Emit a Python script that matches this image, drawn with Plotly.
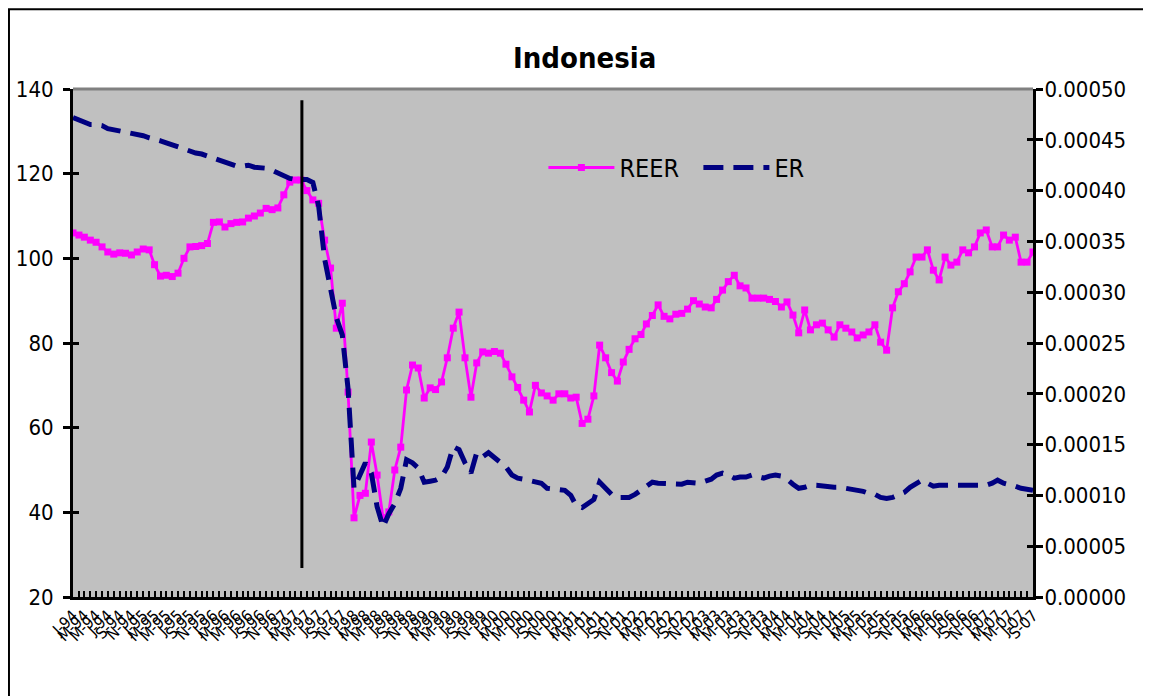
import pandas as pd
import plotly.graph_objects as go

dates = pd.date_range("1994-01-01", "2007-09-01", freq="MS")
months = ["J", "F", "M", "A", "M", "J", "J", "A", "S", "O", "N", "D"]
labels = [f"{months[d.month-1]}-{d.strftime('%y')}" for d in dates]

reer = [
    106, 105.5, 105, 104.3, 103.8, 102.7, 101.5, 101, 101.3, 101.2,
    100.8, 101.5, 102.2, 102, 98.5, 95.8, 96, 95.7, 96.5, 100,
    102.7, 102.8, 103, 103.5, 108.5, 108.6, 107.4, 108.2, 108.5, 108.6,
    109.5, 110, 110.7, 111.8, 111.5, 111.9, 115, 118, 118.5, 118.5,
    116, 113.8, 113, 104.3, 97.7, 83.5, 89.4, 68.4, 38.7, 44,
    44.5, 56.6, 48.8, 38.7, 40.1, 50, 55.4, 68.9, 74.8, 74.1,
    67, 69.4, 69, 70.8, 76.5, 83.5, 87.3, 76.5, 67.2, 75.3,
    77.9, 77.6, 78, 77.6, 75, 72, 69.5, 66.5, 63.7, 70,
    68.2, 67.5, 66.5, 68, 68, 67, 67.2, 61, 62, 67.5,
    79.5, 76.5, 73, 71, 75.5, 78.5, 81, 82, 84.5, 86.5,
    89, 86.3, 85.7, 86.8, 87, 88, 90, 89.2, 88.5, 88.3,
    90.3, 92.5, 94.5, 96, 93.5, 93, 90.6, 90.6, 90.6, 90.3,
    89.8, 88.5, 89.7, 86.6, 82.4, 87.8, 83.1, 84.3, 84.7, 83.1,
    81.4, 84.3, 83.5, 82.6, 81.2, 81.9, 82.6, 84.3, 80.2, 78.3,
    88.3, 92.1, 94, 96.8, 100.3, 100.3, 102, 97.2, 94.9, 100.3,
    98.4, 99.1, 102, 101.3, 102.7, 106, 106.7, 102.7, 102.7, 105.5,
    104.3, 105, 99.1, 99.1, 101.5,
]

er = [
    0.000472, 0.000470, 0.000467, 0.000465, 0.000465, 0.000464, 0.000461, 0.000460, 0.000459, 0.000458,
    0.000457, 0.000456, 0.000454, 0.000452, 0.000451, 0.000449, 0.000447, 0.000445, 0.000443, 0.000440,
    0.000439, 0.000437, 0.000436, 0.000434, 0.000432, 0.000430, 0.000428, 0.000426, 0.000424, 0.000424,
    0.000425, 0.000423, 0.000423, 0.000422, 0.000420, 0.000417, 0.000414, 0.000412, 0.000411, 0.000411,
    0.000411, 0.000408, 0.000385, 0.000333, 0.000305, 0.000275, 0.000258, 0.000205, 0.000107, 0.000120,
    0.000132, 0.000122, 0.000089, 0.000069, 0.000082, 0.000092, 0.000107, 0.000135, 0.000132, 0.000127,
    0.000113, 0.000114, 0.000115, 0.000118, 0.000128, 0.000148, 0.000145, 0.000132, 0.000122, 0.000142,
    0.000138, 0.000142, 0.000137, 0.000133, 0.000128, 0.000120, 0.000117, 0.000116, 0.000115, 0.000114,
    0.000112, 0.000107, 0.000106, 0.000106, 0.000105, 0.000100, 0.000090, 0.000088, 0.000092, 0.000096,
    0.000113, 0.000107, 0.000101, 0.000098, 0.000098, 0.000098, 0.000101, 0.000105, 0.000109, 0.000113,
    0.000112, 0.000112, 0.000112, 0.000112, 0.000111, 0.000113, 0.000112, 0.000112, 0.000114, 0.000116,
    0.000120, 0.000122, 0.000120, 0.000117, 0.000118, 0.000118, 0.000120, 0.000118, 0.000117, 0.000119,
    0.000120, 0.000119, 0.000116, 0.000111, 0.000107, 0.000108, 0.000110, 0.000110, 0.000109, 0.000108,
    0.000108, 0.000108, 0.000107, 0.000107, 0.000106, 0.000104, 0.000102, 0.000101, 0.000098, 0.000097,
    0.000098, 0.000100, 0.000103, 0.000108, 0.000112, 0.000115, 0.000112, 0.000109, 0.000110, 0.000110,
    0.000110, 0.000110, 0.000110, 0.000110, 0.000110, 0.000110, 0.000110, 0.000112, 0.000115, 0.000112,
    0.000111, 0.000109, 0.000107, 0.000106, 0.000105,
]

left_ticks = [20, 40, 60, 80, 100, 120, 140]
right_ticks = [0, 0.00005, 0.0001, 0.00015, 0.0002, 0.00025, 0.0003, 0.00035, 0.0004, 0.00045, 0.0005]
right_labels = [f"{v:.5f}" for v in right_ticks]
marker_date = "1997-04-05"

FONT = "Liberation Sans Narrow, DejaVu Sans Condensed, Arial Narrow, Liberation Sans, sans-serif"

fig = go.Figure()
fig.add_trace(go.Scatter(
    x=dates, y=reer, name="REER", mode="lines+markers",
    line=dict(color="#FF00FF", width=2.8),
    marker=dict(symbol="square", size=7, color="#FF00FF"),
    yaxis="y",
))
fig.add_trace(go.Scatter(
    x=dates, y=er, name="ER", mode="lines",
    line=dict(color="#000080", width=5, dash="20px,10px"),
    yaxis="y2",
))

fig.add_shape(type="line", xref="x", yref="paper",
              x0=marker_date, x1=marker_date, y0=0.057, y1=0.978,
              line=dict(color="black", width=3))
# plot-area top border (grey) and outer frame
fig.add_shape(type="line", xref="paper", yref="paper", x0=0, x1=1, y0=1, y1=1,
              line=dict(color="#808080", width=3))
fig.add_shape(type="rect", xref="paper", yref="paper",
              x0=-0.0667, x1=1.3, y0=-0.4, y1=1.157,
              line=dict(color="black", width=2), layer="below")

fig.update_layout(
    width=1151, height=696,
    margin=dict(l=65, r=126, t=81, b=107, autoexpand=False),
    paper_bgcolor="white", plot_bgcolor="#C0C0C0",
    font=dict(family=FONT, size=22, color="black"),
    title=dict(text="<b>Indonesia</b>", x=0.533, xref="paper", xanchor="center",
               y=0.928, yref="container", yanchor="middle",
               font=dict(family=FONT, size=29, color="black")),
    showlegend=True,
    legend=dict(orientation="h", x=0.49, y=0.845, xanchor="left", yanchor="middle",
                bgcolor="rgba(0,0,0,0)", font=dict(family=FONT, size=25),
                itemwidth=66, entrywidth=74, entrywidthmode="pixels",
                traceorder="normal"),
    xaxis=dict(
        type="date", range=[dates[0], dates[-1]], automargin=False,
        tickvals=list(dates[::2]), ticktext=labels[::2],
        tickangle=-45, tickfont=dict(family=FONT, size=16),
        ticks="inside", ticklen=6, tickwidth=1.5, tickcolor="black",
        minor=dict(dtick="M1", tick0="1994-01-01", ticks="inside", ticklen=6,
                   tickwidth=1.5, tickcolor="black", showgrid=False),
        showline=True, linecolor="black", linewidth=3,
        showgrid=False, zeroline=False,
    ),
    yaxis=dict(
        range=[20, 140], tickvals=left_ticks, automargin=False,
        ticks="outside", ticklen=7, tickwidth=3, tickcolor="black",
        ticklabelstandoff=5,
        showline=True, linecolor="black", linewidth=3,
        showgrid=False, zeroline=False,
        tickfont=dict(family=FONT, size=22),
    ),
    yaxis2=dict(
        range=[0, 0.0005], tickvals=right_ticks, ticktext=right_labels,
        overlaying="y", side="right", automargin=False,
        ticks="outside", ticklen=7, tickwidth=3, tickcolor="black",
        ticklabelstandoff=-3,
        showline=True, linecolor="black", linewidth=3,
        showgrid=False, zeroline=False,
        tickfont=dict(family=FONT, size=22),
    ),
    yaxis3=dict(
        range=[20, 140], tickvals=left_ticks, overlaying="y", side="left",
        ticks="inside", ticklen=6, tickwidth=3, tickcolor="black", automargin=False,
        showticklabels=False, showgrid=False, zeroline=False, showline=False,
    ),
    yaxis4=dict(
        range=[0, 0.0005], tickvals=right_ticks, overlaying="y", side="right",
        ticks="inside", ticklen=6, tickwidth=3, tickcolor="black", automargin=False,
        showticklabels=False, showgrid=False, zeroline=False, showline=False,
    ),
)
# invisible traces to activate the inner-tick axes
fig.add_trace(go.Scatter(x=[dates[0]], y=[None], yaxis="y3", showlegend=False, hoverinfo="skip"))
fig.add_trace(go.Scatter(x=[dates[0]], y=[None], yaxis="y4", showlegend=False, hoverinfo="skip"))

fig.write_html("out.html")
